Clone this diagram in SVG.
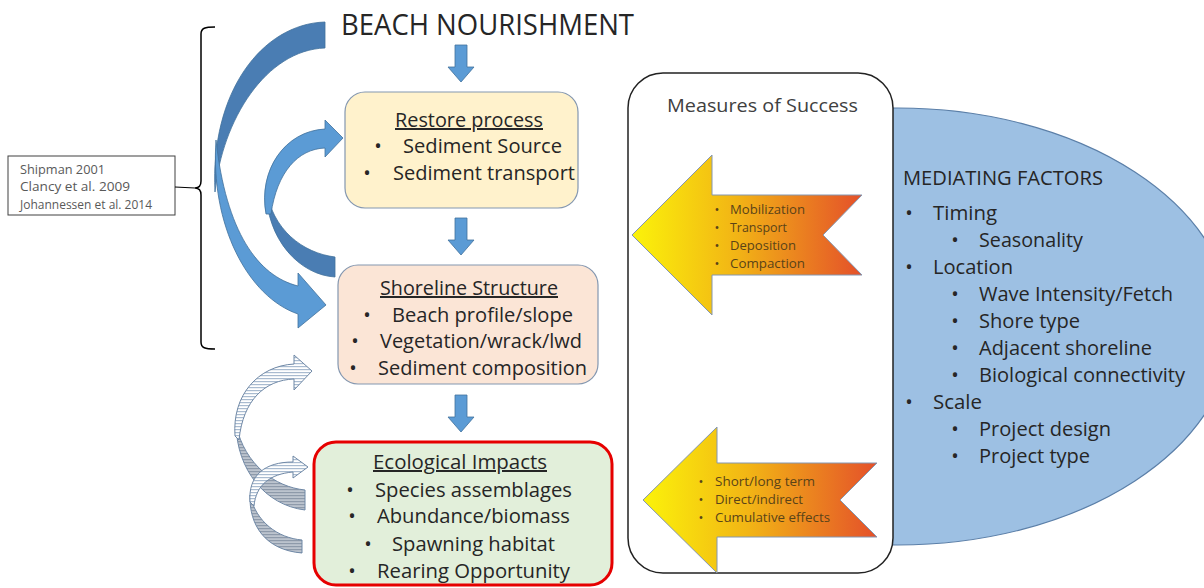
<svg xmlns="http://www.w3.org/2000/svg" width="1204" height="588" viewBox="0 0 1204 588">
  <defs>
    <style>
      .t { font-family: "Open Sans", "Noto Sans", "DejaVu Sans", sans-serif; fill: #262626; }
      .title { font-size: 30px; }
      .box { font-size: 20px; }
      .hd { text-decoration: underline; }
      .mid { text-anchor: middle; }
      .cite { font-size: 12px; fill: #595959; }
      .med { font-size: 20px; }
      .small { font-size: 13px; fill: #5a4318; }
      .mos { font-size: 19px; fill: #404040; }
      .down { fill: #5b9bd5; stroke: #41719c; stroke-width: 0.8; }
      .curveDark { fill: #4a7db3; stroke: #41719c; stroke-width: 0.8; }
      .curveLight { fill: #5b9bd5; stroke: #41719c; stroke-width: 0.8; }
      .hatchF { fill: url(#hatchLight); stroke: #6f88a6; stroke-width: 1; }
      .hatchB { fill: url(#hatchDark); stroke: #6f88a6; stroke-width: 1; }
      .factor { fill: url(#warm); stroke: #8496b0; stroke-width: 1; }
    </style>
    <linearGradient id="warm" x1="0" y1="0" x2="1" y2="0">
      <stop offset="0" stop-color="#fbf30a"/>
      <stop offset="0.45" stop-color="#f2b515"/>
      <stop offset="1" stop-color="#e4502a"/>
    </linearGradient>
    <pattern id="hatchLight" width="6" height="3" patternUnits="userSpaceOnUse">
      <rect width="6" height="3" fill="#ffffff"/>
      <rect width="6" height="1.2" fill="#a9bbd0"/>
    </pattern>
    <pattern id="hatchDark" width="6" height="3" patternUnits="userSpaceOnUse">
      <rect width="6" height="3" fill="#bcc4ce"/>
      <rect width="6" height="1.2" fill="#8e9aaa"/>
    </pattern>
    <!-- keeps only the right half of the factors ellipse -->
    <clipPath id="rightHalf">
      <rect x="886" y="0" width="330" height="588"/>
    </clipPath>
    <!-- straight block arrow pointing down, origin at top centre -->
    <path id="downArrow" d="M-6,0 H6 V22 H13 L0,37 L-13,22 H-6 Z"/>
  </defs>

  <rect width="1204" height="588" fill="#ffffff"/>

  <!-- mediating factors: half ellipse behind the measures panel -->
  <g id="mediating-factors">
    <ellipse cx="898" cy="326.5" rx="335" ry="218.5" fill="#9dc0e3" stroke="#5b7fa8" stroke-width="1.2" clip-path="url(#rightHalf)"/>
  </g>

  <!-- measures of success panel -->
  <g id="measures-of-success">
    <rect x="628" y="73" width="265" height="500" rx="35" ry="35" fill="#ffffff" stroke="#222222" stroke-width="1.5"/>
    <text class="t mos" x="667" y="112" textLength="191" lengthAdjust="spacingAndGlyphs">Measures of Success</text>
  </g>

  <g id="mediating-factors-text" class="t med">
    <text x="903" y="185" textLength="200" lengthAdjust="spacingAndGlyphs">MEDIATING FACTORS</text>
    <text x="909" y="220" class="mid">•</text><text x="933" y="220" textLength="64" lengthAdjust="spacingAndGlyphs">Timing</text>
    <text x="955" y="247" class="mid">•</text><text x="979" y="247" textLength="104" lengthAdjust="spacingAndGlyphs">Seasonality</text>
    <text x="909" y="274" class="mid">•</text><text x="933" y="274" textLength="80" lengthAdjust="spacingAndGlyphs">Location</text>
    <text x="955" y="301" class="mid">•</text><text x="979" y="301" textLength="194" lengthAdjust="spacingAndGlyphs">Wave Intensity/Fetch</text>
    <text x="955" y="328" class="mid">•</text><text x="979" y="328" textLength="101" lengthAdjust="spacingAndGlyphs">Shore type</text>
    <text x="955" y="355" class="mid">•</text><text x="979" y="355" textLength="173" lengthAdjust="spacingAndGlyphs">Adjacent shoreline</text>
    <text x="955" y="382" class="mid">•</text><text x="979" y="382" textLength="206" lengthAdjust="spacingAndGlyphs">Biological connectivity</text>
    <text x="909" y="409" class="mid">•</text><text x="933" y="409" textLength="49" lengthAdjust="spacingAndGlyphs">Scale</text>
    <text x="955" y="436" class="mid">•</text><text x="979" y="436" textLength="132" lengthAdjust="spacingAndGlyphs">Project design</text>
    <text x="955" y="463" class="mid">•</text><text x="979" y="463" textLength="111" lengthAdjust="spacingAndGlyphs">Project type</text>
  </g>

  <!-- process measures arrow -->
  <g id="process-measures">
    <path class="factor" d="M632,235 L712,155 L712,195 L862,195 L823,235 L862,275 L712,275 L712,315 Z"/>
    <g class="t small">
      <text x="717" y="214" class="mid">•</text><text x="730" y="214" textLength="75" lengthAdjust="spacingAndGlyphs">Mobilization</text>
      <text x="717" y="232" class="mid">•</text><text x="730" y="232" textLength="57" lengthAdjust="spacingAndGlyphs">Transport</text>
      <text x="717" y="250" class="mid">•</text><text x="730" y="250" textLength="66" lengthAdjust="spacingAndGlyphs">Deposition</text>
      <text x="717" y="268" class="mid">•</text><text x="730" y="268" textLength="75" lengthAdjust="spacingAndGlyphs">Compaction</text>
    </g>
  </g>

  <!-- temporal measures arrow -->
  <g id="effect-measures">
    <path class="factor" d="M643,500 L717,427 L717,463 L877,463 L840,500 L877,537 L717,537 L717,573 Z"/>
    <g class="t small">
      <text x="701" y="486" class="mid">•</text><text x="715" y="486" textLength="100" lengthAdjust="spacingAndGlyphs">Short/long term</text>
      <text x="701" y="504" class="mid">•</text><text x="715" y="504" textLength="88" lengthAdjust="spacingAndGlyphs">Direct/indirect</text>
      <text x="701" y="522" class="mid">•</text><text x="715" y="522" textLength="115" lengthAdjust="spacingAndGlyphs">Cumulative effects</text>
    </g>
  </g>

  <!-- heading -->
  <g id="beach-nourishment">
    <text class="t title" x="341" y="35" textLength="293" lengthAdjust="spacingAndGlyphs">BEACH NOURISHMENT</text>
  </g>

  <!-- process box -->
  <g id="restore-process">
    <rect x="345" y="92" width="233" height="116" rx="20" ry="20" fill="#fff2cc" stroke="#8497b0" stroke-width="1.2"/>
    <g class="t box">
      <text class="hd" x="395" y="127" textLength="148" lengthAdjust="spacingAndGlyphs">Restore process</text>
      <text x="378" y="153" class="mid">•</text><text x="403" y="153" textLength="159" lengthAdjust="spacingAndGlyphs">Sediment Source</text>
      <text x="367" y="180" class="mid">•</text><text x="393" y="180" textLength="182" lengthAdjust="spacingAndGlyphs">Sediment transport</text>
    </g>
  </g>

  <!-- structure box -->
  <g id="shoreline-structure">
    <rect x="338" y="265" width="260" height="119" rx="20" ry="20" fill="#fbe5d6" stroke="#8497b0" stroke-width="1.2"/>
    <g class="t box">
      <text class="hd" x="380" y="295" textLength="178" lengthAdjust="spacingAndGlyphs">Shoreline Structure</text>
      <text x="367" y="322" class="mid">•</text><text x="392" y="322" textLength="181" lengthAdjust="spacingAndGlyphs">Beach profile/slope</text>
      <text x="355" y="348" class="mid">•</text><text x="380" y="348" textLength="202" lengthAdjust="spacingAndGlyphs">Vegetation/wrack/lwd</text>
      <text x="353" y="375" class="mid">•</text><text x="378" y="375" textLength="209" lengthAdjust="spacingAndGlyphs">Sediment composition</text>
    </g>
  </g>

  <!-- ecological impacts box -->
  <g id="ecological-impacts">
    <rect x="314" y="442" width="298" height="143" rx="22" ry="22" fill="#e2efda" stroke="#e60000" stroke-width="3"/>
    <g class="t box">
      <text class="hd" x="373" y="469" textLength="174" lengthAdjust="spacingAndGlyphs">Ecological Impacts</text>
      <text x="350" y="497" class="mid">•</text><text x="375" y="497" textLength="197" lengthAdjust="spacingAndGlyphs">Species assemblages</text>
      <text x="352" y="523" class="mid">•</text><text x="377" y="523" textLength="193" lengthAdjust="spacingAndGlyphs">Abundance/biomass</text>
      <text x="368" y="551" class="mid">•</text><text x="392" y="551" textLength="163" lengthAdjust="spacingAndGlyphs">Spawning habitat</text>
      <text x="352" y="578" class="mid">•</text><text x="377" y="578" textLength="193" lengthAdjust="spacingAndGlyphs">Rearing Opportunity</text>
    </g>
  </g>

  <!-- references -->
  <g id="citations">
    <rect x="8" y="156" width="167" height="59" fill="#ffffff" stroke="#404040" stroke-width="1"/>
    <g class="t cite">
      <text x="20" y="174" textLength="85" lengthAdjust="spacingAndGlyphs">Shipman 2001</text>
      <text x="20" y="191" textLength="110" lengthAdjust="spacingAndGlyphs">Clancy et al. 2009</text>
      <text x="20" y="209" textLength="132" lengthAdjust="spacingAndGlyphs">Johannessen et al. 2014</text>
    </g>
  </g>

  <g id="brace">
    <path d="M215,27 C205,27 201,28 201,34 L201,181 C201,186 199,188 195,188 C199,188 201,190 201,195 L201,342 C201,348 205,349 215,349" fill="none" stroke="#000000" stroke-width="1.5"/>
  </g>

  <g id="connectors">
    <line x1="175" y1="187" x2="195" y2="188" stroke="#000000" stroke-width="1.2"/>

    <!-- straight flow arrows -->
    <use href="#downArrow" class="down" x="461" y="45"/>
    <use href="#downArrow" class="down" x="461" y="218"/>
    <use href="#downArrow" class="down" x="461" y="395"/>

    <!-- long loop: nourishment to shoreline structure -->
    <path class="curveDark" d="M325,22 C262,24 210,92 215,192 C222,120 266,50 325,48 Z"/>
    <path class="curveLight" d="M216,140 C210,225 248,297 298,314 L298,328 L326,305 L298,273 L298,286 C258,276 226,232 216,140 Z"/>

    <!-- short loop: shoreline structure back to process -->
    <path class="curveDark" d="M335,257 C303,253 272,230 266,188 C266,240 300,275 335,277 Z"/>
    <path class="curveLight" d="M266,214 C258,170 285,131 325,129 L325,120 L343,138 L325,157 L325,148 C298,149 277,172 271,214 Z"/>

    <!-- hatched feedback loops -->
    <path class="hatchB" d="M305,490 C275,487 245,465 236,425 C237,470 265,505 305,510 Z"/>
    <path class="hatchF" d="M235,436 C232,395 258,366 294,364 L294,355 L312,371 L294,390 L294,379 C265,380 243,400 239,440 Z"/>
    <path class="hatchB" d="M302,540 C278,538 256,522 250,495 C249,525 265,550 302,553 Z"/>
    <path class="hatchF" d="M250,502 C248,475 265,462 293,462 L293,456 L308,467 L293,478 L293,472 C270,474 256,485 254,506 Z"/>
  </g>
</svg>
